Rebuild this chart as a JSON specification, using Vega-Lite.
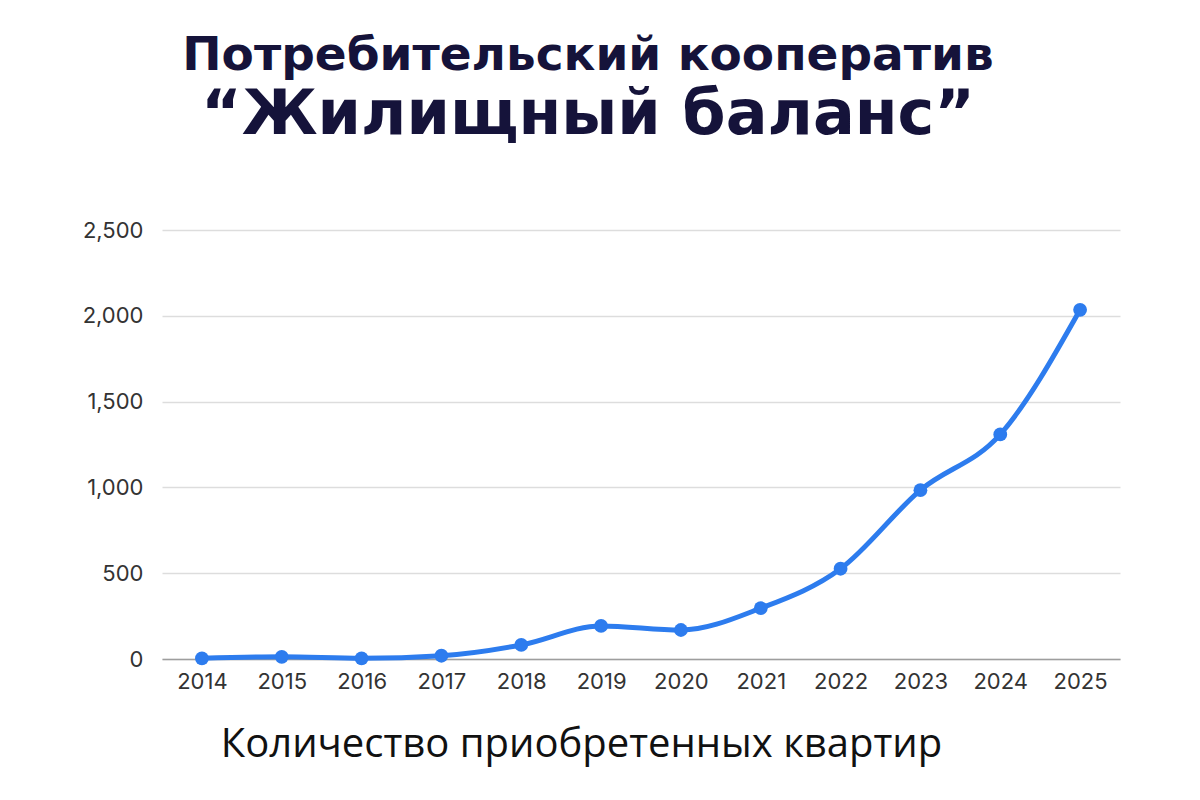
{
  "$schema": "https://vega.github.io/schema/vega-lite/v6.json",
  "width": 958,
  "height": 429,
  "autosize": {"type": "none"},
  "padding": {"left": 162, "top": 230, "right": 80, "bottom": 141},
  "background": "white",
  "title": {
    "text": "Потребительский кооператив",
    "subtitle": "“Жилищный баланс”",
    "anchor": "middle",
    "frame": "group",
    "dx": -53,
    "offset": 72,
    "font": "DejaVu Sans",
    "fontSize": 47,
    "fontWeight": "bold",
    "color": "#15133a",
    "subtitleFont": "DejaVu Sans",
    "subtitleFontSize": 62,
    "subtitleFontWeight": "bold",
    "subtitleColor": "#15133a",
    "subtitlePadding": 5
  },
  "config": {
    "view": {"stroke": null}
  },
  "data": {
    "values": [
      {"year": "2014", "count": 4},
      {"year": "2015", "count": 13},
      {"year": "2016", "count": 4},
      {"year": "2017", "count": 19},
      {"year": "2018", "count": 82},
      {"year": "2019", "count": 193},
      {"year": "2020", "count": 169},
      {"year": "2021", "count": 296},
      {"year": "2022", "count": 526},
      {"year": "2023", "count": 984},
      {"year": "2024", "count": 1309},
      {"year": "2025", "count": 2035}
    ]
  },
  "encoding": {
    "x": {
      "field": "year",
      "type": "ordinal",
      "scale": {"type": "point", "padding": 0.5},
      "title": "Количество приобретенных квартир",
      "axis": {
        "labelAngle": 0,
        "labelFont": "Inter",
        "labelFontSize": 22,
        "labelColor": "#333333",
        "labelPadding": 12,
        "ticks": false,
        "domain": true,
        "domainColor": "#9e9e9e",
        "domainWidth": 1.5,
        "titleFont": "Open Sans",
        "titleFontSize": 40,
        "titleFontWeight": "normal",
        "titleColor": "#111111",
        "titleBaseline": "alphabetic",
        "titleX": 419,
        "titleY": 97
      }
    },
    "y": {
      "field": "count",
      "type": "quantitative",
      "scale": {"domain": [0, 2500]},
      "title": null,
      "axis": {
        "values": [0, 500, 1000, 1500, 2000, 2500],
        "labelFont": "Inter",
        "labelFontSize": 22,
        "labelColor": "#333333",
        "labelPadding": 19,
        "ticks": false,
        "domain": false,
        "gridColor": "#dddddd",
        "gridWidth": 1.5
      }
    }
  },
  "layer": [
    {
      "mark": {"type": "line", "interpolate": "monotone", "strokeWidth": 5, "color": "#2d7cee"}
    },
    {
      "mark": {"type": "point", "filled": true, "size": 190, "opacity": 1, "color": "#2d7cee"}
    }
  ]
}
